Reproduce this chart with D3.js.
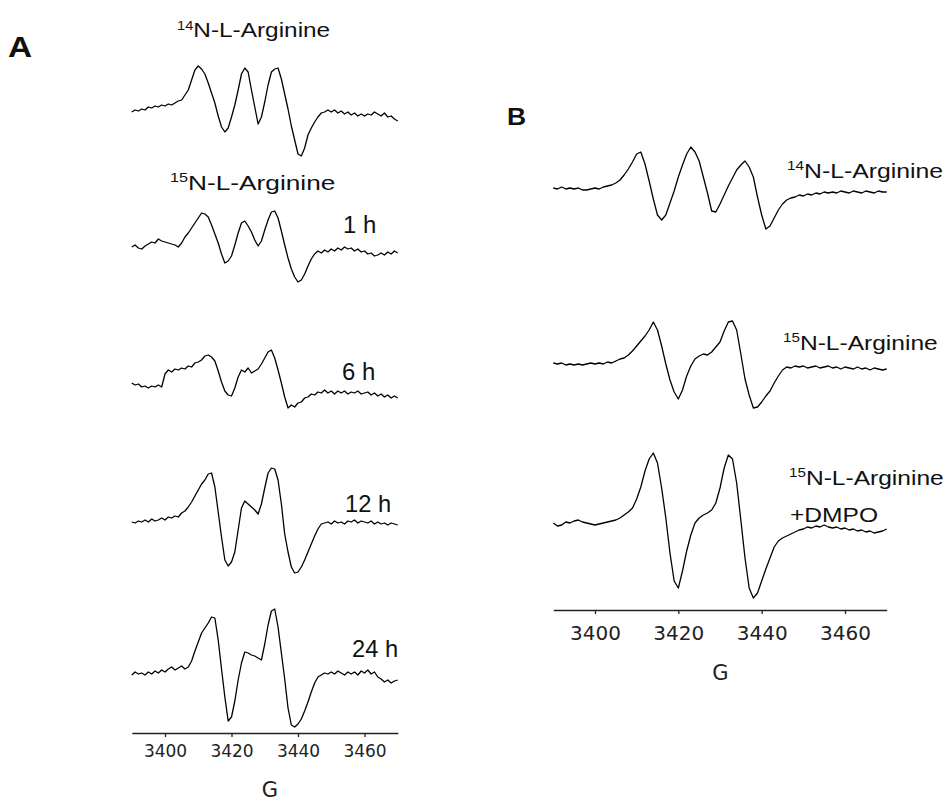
<!DOCTYPE html>
<html>
<head>
<meta charset="utf-8">
<script src="https://cdn.jsdelivr.net/npm/d3@7"></script>
<style>
  body { margin: 0; background: #fff; }
  svg { display: block; }
</style>
</head>
<body>
<div id="chart"></div>
<script>
// magnetic field (G), one reading per gauss
const fields = d3.range(3390, 3471)
const tickValues = [3400, 3420, 3440, 3460]

// panel A spectra (signal, arbitrary units)
const a14N = [
  0, 2, 1, 3, 2, 5, 4, 6, 5, 7,
  6, 8, 7, 9, 11, 12, 17, 22, 32, 42,
  46, 43, 38, 29, 19, 9, -4, -15, -20, -16,
  -5, 7, 22, 38, 44, 40, 22, 5, -12, -5,
  10, 27, 40, 43, 44, 33, 18, 3, -14, -28,
  -42, -44, -36, -23, -16, -10, -5, -1, 0, 2,
  0, 2, -1, 1, -2, 0, -3, -1, -4, -2,
  -4, -2, -3, 0, -2, -4, -1, -5, -4, -7,
  -9
]
const a15N1h = [
  -1, 1, -2, -3, 0, 2, 4, 3, 7, 5,
  4, 3, 2, 1, -1, 3, 9, 13, 18, 23,
  28, 33, 32, 29, 21, 12, 3, -8, -17, -15,
  -10, 1, 13, 23, 25, 20, 14, 6, 0, 5,
  16, 26, 34, 35, 28, 15, 1, -12, -23, -31,
  -36, -34, -28, -20, -13, -8, -5, -7, -4, -6,
  -3, -5, -2, -4, -1, -3, -2, -5, -3, -6,
  -5, -8, -7, -10, -9, -7, -9, -6, -8, -5,
  -7
]
const a15N6h = [
  2, 0, 1, -2, -1, -3, -1, -2, 0, -2,
  11, 15, 13, 16, 15, 17, 16, 19, 18, 22,
  23, 25, 29, 30, 28, 24, 14, 3, -6, -10,
  -11, -3, 8, 15, 13, 17, 12, 14, 16, 21,
  27, 33, 35, 27, 15, 2, -12, -23, -20, -22,
  -18, -17, -13, -12, -9, -10, -7, -8, -5, -8,
  -6, -9, -6, -8, -6, -9, -7, -8, -6, -9,
  -8, -7, -10, -8, -11, -9, -12, -10, -13, -11,
  -13
]
const a15N12h = [
  0, -1, 1, 0, 2, 0, 3, 1, 2, 4,
  2, 5, 4, 6, 5, 9, 11, 15, 20, 26,
  32, 38, 42, 48, 49, 35, 10, -15, -38, -44,
  -40, -30, -8, 14, 21, 18, 15, 12, 8, 18,
  34, 49, 54, 53, 42, 18, -12, -30, -45, -51,
  -50, -45, -38, -30, -22, -14, -7, -2, -1, 0,
  -2, 1, -1, 0, -2, 1, 0, 2, -1, 1,
  0, -1, 1, -2, 0, -2, -1, -3, -1, -2,
  -3
]
const a15N24h = [
  0, 3, 1, 2, 0, 3, 1, 4, 2, 5,
  3, 6, 8, 5, 7, 9, 6, 8, 14, 24,
  33, 42, 47, 52, 58, 57, 35, 6, -22, -46,
  -42, -26, -5, 12, 23, 22, 20, 19, 17, 15,
  31, 50, 64, 66, 48, 22, -4, -33, -50, -52,
  -49, -44, -36, -27, -17, -8, -2, 0, 2, 1,
  3, 1, 4, 2, 0, 3, 1, 3, 0, 4,
  2, 5, 1, 3, -2, -4, -7, -5, -8, -6,
  -5
]

// panel B spectra
const b14N = [
  1, 0, 2, 0, 1, 0, 1, -1, -1, 0,
  1, 0, 2, 3, 4, 6, 9, 14, 20, 27,
  35, 37, 25, 8, -10, -26, -31, -26, -14, -2,
  12, 24, 35, 42, 37, 28, 12, -4, -22, -23,
  -15, -6, 3, 11, 19, 24, 28, 22, 12, -8,
  -26, -40, -37, -29, -21, -15, -11, -9, -8, -6,
  -7, -5, -6, -4, -5, -3, -4, -3, -4, -2,
  -3, -4, -2, -3, -4, -2, -3, -4, -2, -3,
  -3
]
const b15N = [
  1, 0, 1, -1, 0, -1, 0, -1, 0, 1,
  0, 1, 0, 2, 1, 3, 5, 6, 9, 13,
  18, 23, 28, 34, 42, 34, 18, 0, -16, -28,
  -35, -26, -12, -2, 5, 8, 10, 9, 12, 17,
  22, 33, 42, 43, 34, 10, -15, -31, -44, -43,
  -38, -32, -27, -19, -12, -6, -3, -4, -2, -3,
  -2, -4, -3, -2, -4, -3, -2, -4, -3, -5,
  -3, -4, -5, -3, -5, -4, -6, -4, -5, -6,
  -5
]
const b15NDmpo = [
  0, -3, -2, 1, 0, 2, 3, 1, 0, -1,
  -2, -1, 0, 1, 2, 3, 5, 8, 11, 15,
  24, 36, 52, 64, 70, 60, 35, 5, -30, -58,
  -65, -48, -28, -12, 0, 5, 8, 10, 13, 20,
  35, 55, 68, 64, 40, 3, -35, -65, -75, -70,
  -58, -46, -35, -24, -18, -15, -13, -11, -9, -7,
  -6, -4, -5, -3, -4, -2, -4, -5, -4, -6,
  -5, -7, -6, -8, -7, -9, -8, -10, -9, -8,
  -6
]

const width = 950
const height = 803

const svg = d3.select('#chart').append('svg')
  .attr('width', width)
  .attr('height', height)

const xA = d3.scaleLinear().domain([3390, 3470]).range([131.75, 397.75])
const xB = d3.scaleLinear().domain([3390, 3470]).range([553.3, 886.7])
const y = d3.scaleLinear().domain([-100, 100]).range([100, -100])

const panels = [
  {
    x: xA, axisY: 733, tickFont: 17, tickPad: 8, gX: 270, gY: 797, gFont: 21,
    traces: [
      { values: a14N, base: 112 },
      { values: a15N1h, base: 246 },
      { values: a15N6h, base: 385 },
      { values: a15N12h, base: 522 },
      { values: a15N24h, base: 675 }
    ]
  },
  {
    x: xB, axisY: 610, tickFont: 20, tickPad: 12, gX: 720.5, gY: 680, gFont: 21,
    traces: [
      { values: b14N, base: 189 },
      { values: b15N, base: 364 },
      { values: b15NDmpo, base: 523 }
    ]
  }
]

panels.forEach(p => {
  const line = d3.line()
    .x((d, i) => p.x(fields[i]))
    .y(d => y(d))

  p.traces.forEach(t => {
    svg.append('g')
      .attr('transform', `translate(0,${t.base})`)
      .append('path')
      .datum(t.values)
      .attr('d', line)
      .attr('fill', 'none')
      .attr('stroke', '#000')
      .attr('stroke-width', 1.3)
      .attr('stroke-linejoin', 'round')
  })

  const axis = d3.axisBottom(p.x)
    .tickValues(tickValues)
    .tickSize(4)
    .tickSizeOuter(0)
    .tickPadding(p.tickPad)
    .tickFormat(d3.format('d'))

  const gAxis = svg.append('g')
    .attr('transform', `translate(0,${p.axisY})`)
    .call(axis)
    .attr('font-family', 'DejaVu Sans, Verdana, sans-serif')
    .attr('font-size', p.tickFont)

  gAxis.select('.domain').attr('stroke', '#222').attr('stroke-width', 1.6)
  gAxis.selectAll('.tick line').attr('stroke', '#222').attr('stroke-width', 1.3)
  gAxis.selectAll('.tick text').attr('fill', '#222')

  svg.append('text')
    .attr('x', p.gX)
    .attr('y', p.gY)
    .attr('text-anchor', 'middle')
    .attr('font-family', 'DejaVu Sans, Verdana, sans-serif')
    .attr('font-size', p.gFont)
    .attr('fill', '#222')
    .text('G')
})

// text labels
const labels = [
  { x: 8, y: 57, size: 29, sx: 1.15, bold: true, parts: [{ t: 'A' }] },
  { x: 507, y: 125, size: 23, sx: 1.15, bold: true, parts: [{ t: 'B' }] },
  { x: 177, y: 37, size: 20, sx: 1.22, parts: [{ t: '14', sup: true }, { t: 'N-L-Arginine' }] },
  { x: 170, y: 190, size: 21, sx: 1.25, parts: [{ t: '15', sup: true }, { t: 'N-L-Arginine' }] },
  { x: 343, y: 233, size: 23, sx: 1.04, parts: [{ t: '1 h' }] },
  { x: 342, y: 380, size: 23, sx: 1.04, parts: [{ t: '6 h' }] },
  { x: 345, y: 512, size: 23, sx: 1.03, parts: [{ t: '12 h' }] },
  { x: 352, y: 657, size: 23, sx: 1.03, parts: [{ t: '24 h' }] },
  { x: 787, y: 178, size: 21, sx: 1.18, parts: [{ t: '14', sup: true }, { t: 'N-L-Arginine' }] },
  { x: 783, y: 350, size: 21, sx: 1.17, parts: [{ t: '15', sup: true }, { t: 'N-L-Arginine' }] },
  { x: 789, y: 485, size: 21, sx: 1.17, parts: [{ t: '15', sup: true }, { t: 'N-L-Arginine' }] },
  { x: 790, y: 522, size: 21, sx: 1.17, parts: [{ t: '+DMPO' }] }
]

labels.forEach(l => {
  const text = svg.append('text')
    .attr('transform', `translate(${l.x},${l.y}) scale(${l.sx},1)`)
    .attr('font-family', 'Liberation Sans, Arial, sans-serif')
    .attr('font-size', l.size)
    .attr('font-weight', l.bold ? 'bold' : 'normal')
    .attr('fill', '#111')

  let raised = false
  l.parts.forEach(part => {
    const span = text.append('tspan').text(part.t)
    if (part.sup) {
      span.attr('font-size', Math.round(l.size * 0.62)).attr('dy', -l.size * 0.36)
      raised = true
    } else if (raised) {
      span.attr('dy', l.size * 0.36)
      raised = false
    }
  })
})
</script>
</body>
</html>
